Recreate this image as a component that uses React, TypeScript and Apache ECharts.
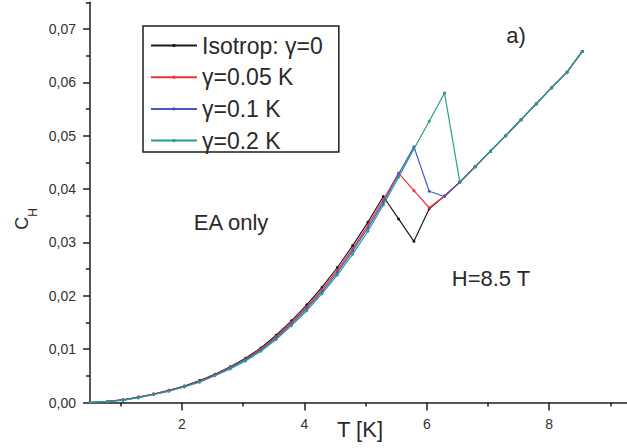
import React, { useEffect, useRef } from 'react';
import * as echarts from 'echarts';

const temperatures = [
  0.5, 0.79, 1.04, 1.29, 1.54, 1.79, 2.04, 2.29, 2.54, 2.79,
  3.04, 3.29, 3.54, 3.79, 4.04, 4.29, 4.54, 4.79, 5.04, 5.29,
  5.54, 5.79, 6.04, 6.29, 6.54, 6.79, 7.04, 7.29, 7.54, 7.79,
  8.04, 8.29, 8.54,
];

const isotrop = [
  0.0, 0.0002, 0.0005, 0.001, 0.0016, 0.0023, 0.0031, 0.0041, 0.0053, 0.0067,
  0.0083, 0.0102, 0.0126, 0.0153, 0.0183, 0.0216, 0.0253, 0.0294, 0.0338, 0.0386,
  0.0344, 0.0302, 0.0363, 0.0387, 0.0413, 0.0442, 0.0471, 0.05, 0.053, 0.056,
  0.059, 0.0619, 0.0658,
];

const gamma005 = [
  0.0, 0.0002, 0.0005, 0.001, 0.0016, 0.0023, 0.003, 0.004, 0.0052, 0.0066,
  0.0081, 0.01, 0.0123, 0.015, 0.0179, 0.0212, 0.0248, 0.0288, 0.0332, 0.038,
  0.043, 0.0397, 0.0365, 0.0387, 0.0413, 0.0442, 0.0471, 0.05, 0.053, 0.056,
  0.059, 0.0619, 0.0658,
];

const gamma01 = [
  0.0, 0.0002, 0.0005, 0.0009, 0.0015, 0.0022, 0.003, 0.0039, 0.0051, 0.0065,
  0.008, 0.0098, 0.0121, 0.0147, 0.0176, 0.0208, 0.0244, 0.0284, 0.0327, 0.0375,
  0.0428, 0.0479, 0.0396, 0.0386, 0.0413, 0.0442, 0.0471, 0.05, 0.053, 0.056,
  0.059, 0.0619, 0.0658,
];

const gamma02 = [
  0.0, 0.0002, 0.0004, 0.0009, 0.0015, 0.0021, 0.0029, 0.0038, 0.005, 0.0063,
  0.0078, 0.0096, 0.0118, 0.0144, 0.0172, 0.0204, 0.0239, 0.0278, 0.0321, 0.037,
  0.0422, 0.0475, 0.0527, 0.058, 0.0413, 0.0442, 0.0471, 0.05, 0.053, 0.056,
  0.059, 0.0619, 0.0658,
];

const seriesNames = ['Isotrop: γ=0', 'γ=0.05 K', 'γ=0.1 K', 'γ=0.2 K'];
const seriesValues = [isotrop, gamma005, gamma01, gamma02];
const seriesColors = ['#1c1c1c', '#f2303a', '#4658c4', '#2a9c8e'];

const xMajorTicks = [2, 4, 6, 8];
const xMinorTicks = [1, 3, 5, 7, 9];
const yMajorTicks = [0, 0.01, 0.02, 0.03, 0.04, 0.05, 0.06, 0.07];
const yMinorTicks = [0.005, 0.015, 0.025, 0.035, 0.045, 0.055, 0.065, 0.075];

const FONT = '"Liberation Sans", Arial, sans-serif';
const AXIS_COLOR = '#1e1e1e';
const TEXT_COLOR = '#2a2a2a';

const X_MIN = 0.5;
const X_MAX = 9.27;
const Y_MIN = 0;
const Y_MAX = 0.075;

export default function App() {
  const ref = useRef<HTMLDivElement>(null);

  useEffect(() => {
    if (!ref.current) return;
    const chart = echarts.init(ref.current, null, { renderer: 'svg' });

    const axisLineStyle = { color: AXIS_COLOR, width: 1.5 };

    const option = {
      animation: false,
      backgroundColor: '#ffffff',
      grid: {
        left: 90,
        right: 0,
        top: 2.3,
        bottom: 45.5,
        containLabel: false,
        outerBoundsMode: 'none',
      },
      legend: {
        orient: 'vertical',
        left: 143,
        top: 26,
        padding: [8, 16, 0, 7],
        itemWidth: 46,
        itemHeight: 4,
        itemGap: 8.7,
        borderColor: AXIS_COLOR,
        borderWidth: 1.5,
        backgroundColor: '#ffffff',
        textStyle: {
          fontFamily: FONT,
          fontSize: 23,
          lineHeight: 22,
          color: TEXT_COLOR,
        },
        data: seriesNames,
      },
      xAxis: [
        {
          type: 'value',
          min: X_MIN,
          max: X_MAX,
          axisLine: { show: true, onZero: false, lineStyle: axisLineStyle },
          axisTick: {
            show: true,
            customValues: xMajorTicks,
            length: 8,
            lineStyle: axisLineStyle,
          },
          axisLabel: {
            customValues: xMajorTicks,
            margin: 14,
            fontSize: 14,
            fontFamily: FONT,
            color: '#333333',
          },
          splitLine: { show: false },
        },
        {
          type: 'value',
          min: X_MIN,
          max: X_MAX,
          position: 'bottom',
          axisLine: { show: false, onZero: false },
          axisTick: {
            show: true,
            customValues: xMinorTicks,
            length: 4,
            lineStyle: axisLineStyle,
          },
          axisLabel: { show: false },
          splitLine: { show: false },
        },
      ],
      yAxis: [
        {
          type: 'value',
          min: Y_MIN,
          max: Y_MAX,
          axisLine: { show: true, onZero: false, lineStyle: axisLineStyle },
          axisTick: {
            show: true,
            customValues: yMajorTicks,
            length: 7,
            lineStyle: axisLineStyle,
          },
          axisLabel: {
            customValues: yMajorTicks,
            margin: 14,
            fontSize: 14,
            fontFamily: FONT,
            color: '#333333',
            formatter: (v: number) => v.toFixed(2).replace('.', ','),
          },
          splitLine: { show: false },
        },
        {
          type: 'value',
          min: Y_MIN,
          max: Y_MAX,
          position: 'left',
          axisLine: { show: false, onZero: false },
          axisTick: {
            show: true,
            customValues: yMinorTicks,
            length: 4,
            lineStyle: axisLineStyle,
          },
          axisLabel: { show: false },
          splitLine: { show: false },
        },
      ],
      graphic: [
        {
          type: 'text',
          x: 21.5,
          y: 219,
          rotation: Math.PI / 2,
          style: {
            text: '{c|C}{h|H}',
            align: 'center',
            verticalAlign: 'middle',
            fill: TEXT_COLOR,
            rich: {
              c: { fontFamily: FONT, fontSize: 18, lineHeight: 34, verticalAlign: 'middle', fill: TEXT_COLOR },
              h: { fontFamily: FONT, fontSize: 12, lineHeight: 12, verticalAlign: 'bottom', fill: TEXT_COLOR },
            },
          },
        },
        {
          type: 'text',
          x: 360,
          y: 429,
          style: {
            text: 'T [K]',
            align: 'center',
            verticalAlign: 'middle',
            fontFamily: FONT,
            fontSize: 22,
            fill: TEXT_COLOR,
          },
        },
        {
          type: 'text',
          x: 516,
          y: 35,
          style: {
            text: 'a)',
            align: 'center',
            verticalAlign: 'middle',
            fontFamily: FONT,
            fontSize: 22,
            fill: TEXT_COLOR,
          },
        },
        {
          type: 'text',
          x: 231,
          y: 222,
          style: {
            text: 'EA only',
            align: 'center',
            verticalAlign: 'middle',
            fontFamily: FONT,
            fontSize: 22,
            fill: TEXT_COLOR,
          },
        },
        {
          type: 'text',
          x: 491,
          y: 278,
          style: {
            text: 'H=8.5 T',
            align: 'center',
            verticalAlign: 'middle',
            fontFamily: FONT,
            fontSize: 22,
            fill: TEXT_COLOR,
          },
        },
      ],
      series: seriesNames.map((name, si) => ({
        name,
        type: 'line',
        xAxisIndex: 0,
        yAxisIndex: 0,
        data: temperatures.map((t, i) => [t, seriesValues[si][i]]),
        symbol: 'circle',
        symbolSize: 3,
        showSymbol: true,
        lineStyle: { width: 1.2, color: seriesColors[si] },
        itemStyle: { color: seriesColors[si] },
        z: 2 + si,
      })),
    };

    chart.setOption(option as any);
    return () => chart.dispose();
  }, []);

  return (
    <div
      ref={ref}
      style={{ position: 'fixed', left: 0, top: 0, width: 627, height: 448, background: '#fff' }}
    />
  );
}
